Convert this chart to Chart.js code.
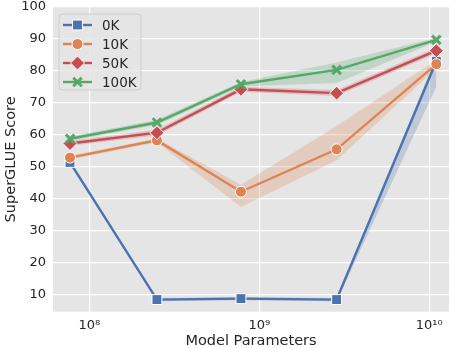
<!DOCTYPE html>
<html>
<head>
<meta charset="utf-8">
<script src="https://cdn.jsdelivr.net/npm/chart.js@4.4.1/dist/chart.umd.min.js"></script>
<style>
  html, body { margin: 0; padding: 0; background: #fff; }
  #wrap { width: 449px; height: 348px; }
</style>
</head>
<body>
<div id="wrap"><canvas id="chart" width="449" height="348"></canvas></div>
<script>
// --- data ---
const params = [7.7e7, 2.5e8, 7.8e8, 2.85e9, 1.1e10];
const seriesNames = ['0K', '10K', '50K', '100K'];

const score0k   = [51.3, 8.3, 8.6, 8.3, 83.0];
const lower0k   = [50.6, 7.8, 8.1, 7.8, 75.0];
const upper0k   = [52.0, 8.8, 9.1, 8.8, 84.5];

const score10k  = [52.8, 58.2, 42.1, 55.4, 82.1];
const lower10k  = [52.2, 57.6, 37.3, 52.0, 80.8];
const upper10k  = [53.4, 58.8, 44.3, 62.7, 83.4];

const score50k  = [57.2, 60.6, 74.2, 73.0, 86.3];
const lower50k  = [56.5, 59.7, 73.4, 72.1, 85.4];
const upper50k  = [58.0, 61.5, 75.0, 74.0, 87.2];

const score100k = [58.7, 63.8, 75.8, 80.3, 89.7];
const lower100k = [58.0, 63.0, 75.1, 76.2, 89.1];
const upper100k = [59.4, 64.7, 76.5, 82.6, 90.4];

const xTicks = [1e8, 1e9, 1e10];
const xTickLabels = ['10⁸', '10⁹', '10¹⁰'];
const yTicks = [10, 20, 30, 40, 50, 60, 70, 80, 90, 100];

const colors = ['#4C72B0', '#DD8452', '#C44E52', '#55A868'];
const bandColors = ['rgba(76,114,176,0.25)', 'rgba(221,132,82,0.25)', 'rgba(196,78,82,0.25)', 'rgba(85,168,104,0.25)'];
const markers = [
  { pointStyle: 'rect', radius: 7, borderWidth: 1, borderColor: '#fff' },
  { pointStyle: 'circle', radius: 5.5, borderWidth: 1, borderColor: '#fff' },
  { pointStyle: 'rectRot', radius: 7, borderWidth: 1, borderColor: '#fff' },
  { pointStyle: 'crossRot', radius: 6, borderWidth: 3, borderColor: null }
];

const scores = [score0k, score10k, score50k, score100k];
const lowers = [lower0k, lower10k, lower50k, lower100k];
const uppers = [upper0k, upper10k, upper50k, upper100k];

const toXY = arr => arr.map((v, i) => ({ x: params[i], y: v }));

const datasets = [];
// confidence bands first (drawn underneath)
seriesNames.forEach((name, i) => {
  datasets.push({
    label: name + ' lo', data: toXY(lowers[i]), borderWidth: 0, pointRadius: 0,
    fill: false, order: 20 + i
  });
  datasets.push({
    label: name + ' hi', data: toXY(uppers[i]), borderWidth: 0, pointRadius: 0,
    backgroundColor: bandColors[i], fill: '-1', order: 20 + i
  });
});
// the lines with markers
seriesNames.forEach((name, i) => {
  const m = markers[i];
  datasets.push({
    label: name,
    data: toXY(scores[i]),
    borderColor: colors[i],
    borderWidth: 2.4,
    backgroundColor: colors[i],
    pointStyle: m.pointStyle,
    pointRadius: m.radius,
    pointBackgroundColor: colors[i],
    pointBorderColor: m.borderColor || colors[i],
    pointBorderWidth: m.borderWidth,
    fill: false,
    order: 10 - i
  });
});

// gray panel behind the plot
const panelBg = {
  id: 'panelBg',
  beforeDraw(chart) {
    const { ctx, chartArea: a } = chart;
    ctx.save();
    ctx.fillStyle = '#e5e5e5';
    ctx.fillRect(a.left, a.top, a.right - a.left, a.bottom - a.top);
    ctx.restore();
  }
};

// legend box with line + marker, top-left inside the plot
const boxLegend = {
  id: 'boxLegend',
  afterDraw(chart) {
    const { ctx, chartArea: a } = chart;
    const x0 = a.left + 6, y0 = a.top + 7, w = 82, h = 76;
    ctx.save();
    ctx.beginPath();
    ctx.roundRect(x0, y0, w, h, 4);
    ctx.fillStyle = 'rgba(229,229,229,0.8)';
    ctx.fill();
    ctx.strokeStyle = '#cfcfcf';
    ctx.lineWidth = 1;
    ctx.stroke();

    seriesNames.forEach((name, i) => {
      const cy = y0 + 11 + i * 19;
      const m = markers[i];
      ctx.beginPath();
      ctx.moveTo(x0 + 4, cy);
      ctx.lineTo(x0 + 33, cy);
      ctx.strokeStyle = colors[i];
      ctx.lineWidth = 2.4;
      ctx.stroke();
      ctx.fillStyle = colors[i];
      ctx.strokeStyle = m.borderColor || colors[i];
      ctx.lineWidth = m.borderWidth;
      Chart.helpers.drawPoint(ctx, { pointStyle: m.pointStyle, radius: m.radius, borderWidth: m.borderWidth, rotation: 0 }, x0 + 18.5, cy);
      ctx.fillStyle = '#262626';
      ctx.font = '13.5px "DejaVu Sans"';
      ctx.textBaseline = 'middle';
      ctx.fillText(name, x0 + 43, cy + 1);
    });
    ctx.restore();
  }
};

new Chart(document.getElementById('chart'), {
  type: 'line',
  data: { datasets },
  plugins: [panelBg, boxLegend],
  options: {
    responsive: false,
    animation: false,
    layout: { autoPadding: false, padding: { top: 7, right: 0, left: 0, bottom: 0 } },
    plugins: { legend: { display: false }, tooltip: { enabled: false } },
    elements: { line: { tension: 0 } },
    scales: {
      x: {
        type: 'logarithmic',
        bounds: 'data',
        min: 6.116e7,
        max: 1.306e10,
        afterBuildTicks: s => { s.ticks = xTicks.map(v => ({ value: v })); },
        afterFit: s => { s.height = 36.3; s.paddingLeft = 0; s.paddingRight = 0; },
        ticks: {
          autoSkip: false, maxRotation: 0, padding: 6,
          color: '#262626', font: { family: 'DejaVu Sans', size: 13 },
          callback: v => xTickLabels[xTicks.indexOf(v)]
        },
        grid: { color: '#ffffff', lineWidth: 1.2, drawTicks: false },
        border: { display: false },
        title: {
          display: true, text: 'Model Parameters', color: '#262626',
          font: { family: 'DejaVu Sans', size: 14.5 }, padding: { top: 0, bottom: -2 }
        }
      },
      y: {
        bounds: 'data',
        min: 4.5,
        max: 100,
        afterBuildTicks: s => { s.ticks = yTicks.map(v => ({ value: v })); },
        afterFit: s => { s.width = 53; s.paddingTop = 0; s.paddingBottom = 0; },
        ticks: { padding: 7, color: '#262626', font: { family: 'DejaVu Sans', size: 13 } },
        grid: { color: '#ffffff', lineWidth: 1.2, drawTicks: false },
        border: { display: false },
        title: {
          display: true, text: 'SuperGLUE Score', color: '#262626',
          font: { family: 'DejaVu Sans', size: 14.5 }, padding: { top: 3, bottom: 0 }
        }
      }
    }
  }
});
</script>
</body>
</html>
